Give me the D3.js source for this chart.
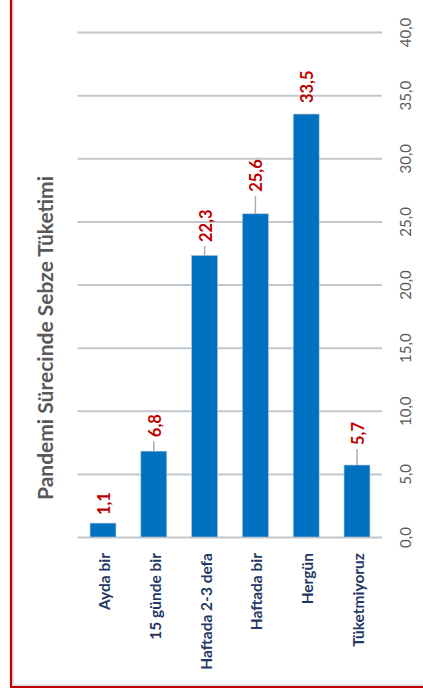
<!DOCTYPE html>
<html>
<head>
<meta charset="utf-8">
<script src="https://cdn.jsdelivr.net/npm/d3@7"></script>
<style>
  html, body { margin: 0; padding: 0; background: #fff; }
  svg { display: block; }
</style>
</head>
<body>
<script>
// ---- data ----
const categories = ["Ayda bir", "15 günde bir", "Haftada 2-3 defa", "Haftada bir", "Hergün", "Tüketmiyoruz"];
const values = [1.1, 6.8, 22.3, 25.6, 33.5, 5.7];
const tickValues = [0, 5, 10, 15, 20, 25, 30, 35, 40];
const title = "Pandemi Sürecinde Sebze Tüketimi";
// label gap (px) above each bar, where a leader line is drawn
const labelGap = [8, 14, 13.5, 22, 11, 20];

const W = 423, H = 698;
const svg = d3.select("body").append("svg").attr("width", W).attr("height", H);

const fmt = d => d.toFixed(1).replace(".", ",");
const rows = categories.map((c, i) => ({ c, v: values[i], gap: labelGap[i] }));

const y = d3.scaleLinear().domain([0, 40]).range([537, 32]);
const x = d3.scaleBand().domain(categories).range([77.6, 382.4]).paddingInner(0.49).paddingOuter(0.245);
const cx = d => x(d.c) + x.bandwidth() / 2;

// frame (red border with grey shadow)
svg.append("line").attr("x1", 13).attr("x2", 13).attr("y1", 0).attr("y2", 685).attr("stroke", "#c8c8c8").attr("stroke-width", 1.2);
svg.append("line").attr("x1", 13).attr("x2", W).attr("y1", 685).attr("y2", 685).attr("stroke", "#c8c8c8").attr("stroke-width", 1.2);
svg.append("line").attr("x1", 11).attr("x2", 11).attr("y1", 0).attr("y2", 687.5).attr("stroke", "#C00000").attr("stroke-width", 2.2);
svg.append("line").attr("x1", 10).attr("x2", W).attr("y1", 687).attr("y2", 687).attr("stroke", "#C00000").attr("stroke-width", 2.2);

// gridlines
const grid = svg.append("g").attr("transform", "translate(77.6,0)")
  .call(d3.axisRight(y).tickValues(tickValues).tickSize(382 - 77.6).tickFormat(""));
grid.select(".domain").remove();
grid.selectAll(".tick line").attr("stroke", "#c3c6ca").attr("stroke-width", 2);

// axis labels (rotated)
const ax = svg.append("g").attr("transform", "translate(405,0)")
  .call(d3.axisRight(y).tickValues(tickValues).tickSize(0).tickFormat(fmt));
ax.select(".domain").remove();
ax.selectAll(".tick text")
  .attr("x", 0).attr("dy", null)
  .attr("transform", "rotate(-90)")
  .attr("text-anchor", "middle")
  .attr("dominant-baseline", "central")
  .attr("fill", "#595959")
  .style("font-family", "Lato, 'Open Sans', sans-serif")
  .style("font-size", "15px");

// bars
svg.append("g").selectAll("rect").data(rows).join("rect")
  .attr("x", d => x(d.c))
  .attr("y", d => y(d.v))
  .attr("width", x.bandwidth())
  .attr("height", d => y(0) - y(d.v))
  .attr("fill", "#0070C0")
  .attr("stroke", "#b4c4d4")
  .attr("stroke-width", 0.6);

// leader lines
svg.append("g").selectAll("line").data(rows.filter(d => d.gap > 12)).join("line")
  .attr("x1", cx).attr("x2", cx)
  .attr("y1", d => y(d.v))
  .attr("y2", d => y(d.v) - d.gap + 4)
  .attr("stroke", "#a6aeb8").attr("stroke-width", 1.5);

// value labels
svg.append("g").selectAll("text").data(rows).join("text")
  .attr("transform", d => `translate(${cx(d) + 1},${y(d.v) - d.gap}) rotate(-90)`)
  .attr("text-anchor", "start")
  .attr("dominant-baseline", "central")
  .attr("fill", "#C00000")
  .style("font-family", "Lato, 'Open Sans', sans-serif")
  .style("font-weight", "bold")
  .style("font-size", "16.5px")
  .text(d => fmt(d.v));

// category labels
svg.append("g").selectAll("text").data(rows).join("text")
  .attr("transform", d => `translate(${cx(d) + 1},553) rotate(-90)`)
  .attr("text-anchor", "end")
  .attr("dominant-baseline", "central")
  .attr("fill", "#1F3864")
  .style("font-family", "Lato, 'Open Sans', sans-serif")
  .style("font-weight", "bold")
  .style("font-size", "15.5px")
  .text(d => d.c);

// title
svg.append("text")
  .attr("transform", "translate(44,338) rotate(-90)")
  .attr("text-anchor", "middle")
  .attr("dominant-baseline", "central")
  .attr("fill", "#595959")
  .style("font-family", "Lato, 'Open Sans', sans-serif")
  .style("font-weight", "bold")
  .style("font-size", "21px")
  .text(title);
</script>
</body>
</html>
